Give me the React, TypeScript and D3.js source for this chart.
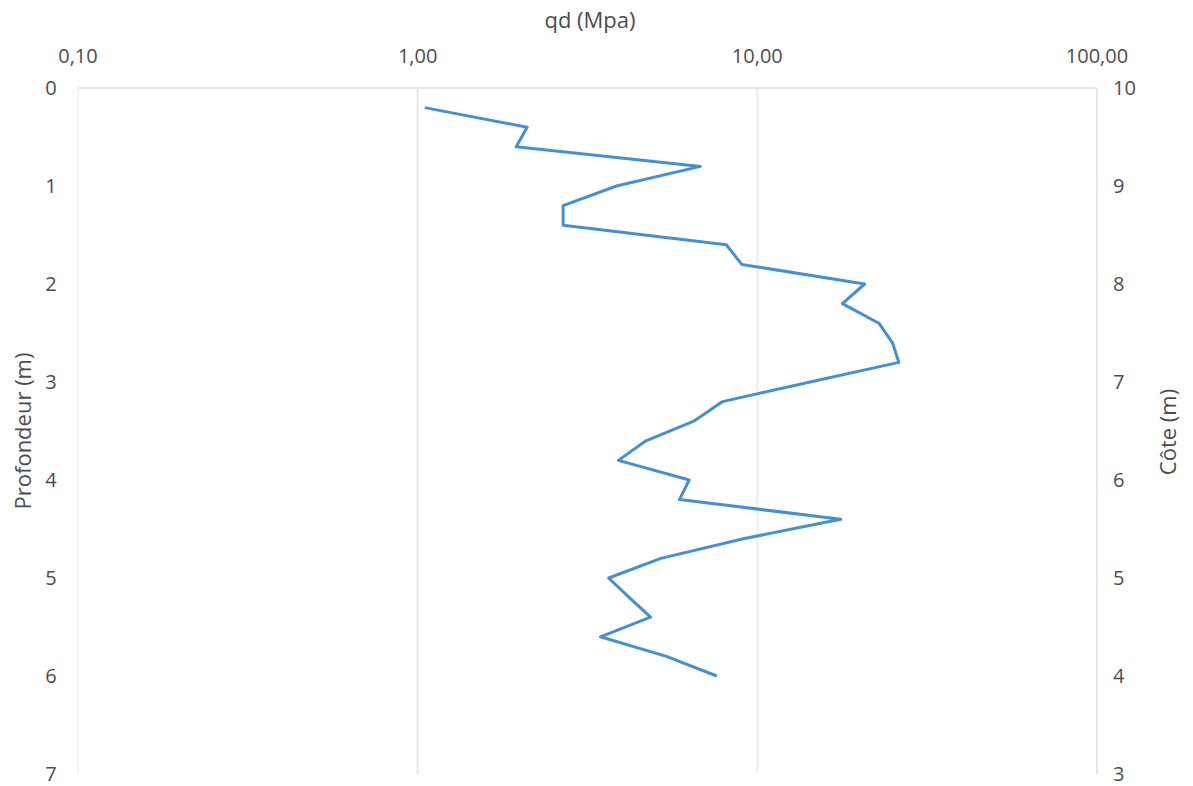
import React from "react";
import * as d3 from "d3";

const depths = [0.2, 0.4, 0.6, 0.8, 1.0, 1.2, 1.4, 1.6, 1.8, 2.0, 2.2, 2.4, 2.6, 2.8, 3.0, 3.2, 3.4, 3.6, 3.8, 4.0, 4.2, 4.4, 4.6, 4.8, 5.0, 5.2, 5.4, 5.6, 5.8, 6.0];
const qd = [1.05, 2.1, 1.95, 6.8, 3.85, 2.68, 2.68, 8.1, 9.0, 20.7, 17.8, 22.8, 25.0, 26.1, 14.3, 7.9, 6.5, 4.7, 3.9, 6.3, 5.9, 17.6, 9.1, 5.2, 3.65, 4.2, 4.85, 3.45, 5.4, 7.6];
const xTicks = [0.1, 1, 10, 100];
const xTickLabels = ["0,10", "1,00", "10,00", "100,00"];
const depthTicks = [0, 1, 2, 3, 4, 5, 6, 7];
const coteTicks = [10, 9, 8, 7, 6, 5, 4, 3];

const W = 1193;
const H = 786;
const FONT = "'Open Sans', 'Noto Sans', sans-serif";
const TXT = "#4d4d4d";

export default function App() {
  const x = d3.scaleLog().domain([0.1, 100]).range([78, 1097]);
  const y = d3.scaleLinear().domain([0, 7]).range([88, 774]);
  const yc = d3.scaleLinear().domain([10, 3]).range([88, 774]);
  const pts: [number, number][] = depths.map((d, i) => [qd[i], d]);
  const line = d3
    .line<[number, number]>()
    .x((p) => x(p[0]))
    .y((p) => y(p[1]));

  return (
    <svg
      width={W}
      height={H}
      style={{ position: "absolute", left: 0, top: 0, background: "#fff" }}
      fontFamily={FONT}
    >
      <rect x={0} y={0} width={W} height={H} fill="#fff" />
      {xTicks.map((t, i) => (
        <line
          key={"g" + i}
          x1={x(t)}
          x2={x(t)}
          y1={y(0)}
          y2={y(7)}
          stroke={i === 0 ? "#f3f3f3" : i === 2 ? "#eeeeee" : "#e6e6e6"}
          strokeWidth={2}
        />
      ))}
      <line x1={x(0.1)} x2={x(100)} y1={y(0)} y2={y(0)} stroke="#e8e8e8" strokeWidth={2} />

      {xTicks.map((t, i) => (
        <text key={"xt" + i} x={x(t)} y={63} textAnchor="middle" fontSize={20} fill={TXT}>
          {xTickLabels[i]}
        </text>
      ))}
      <text x={590} y={28} textAnchor="middle" fontSize={22} fill={TXT}>
        qd (Mpa)
      </text>

      {depthTicks.map((t) => (
        <text key={"yl" + t} x={51} y={y(t)} dy="0.35em" textAnchor="middle" fontSize={20} fill={TXT}>
          {t}
        </text>
      ))}
      <text
        transform={`translate(23, 431) rotate(-90)`}
        textAnchor="middle"
        dy="0.35em"
        fontSize={22}
        fill={TXT}
      >
        Profondeur (m)
      </text>

      {coteTicks.map((t) => (
        <text key={"yr" + t} x={1113} y={yc(t)} dy="0.35em" textAnchor="start" fontSize={20} fill={TXT}>
          {t}
        </text>
      ))}
      <text
        transform={`translate(1168, 432) rotate(-90)`}
        textAnchor="middle"
        dy="0.35em"
        fontSize={22}
        fill={TXT}
      >
        Côte (m)
      </text>

      <path d={line(pts) || ""} fill="none" stroke="#4590cf" strokeWidth={3} strokeLinejoin="round" />
    </svg>
  );
}
